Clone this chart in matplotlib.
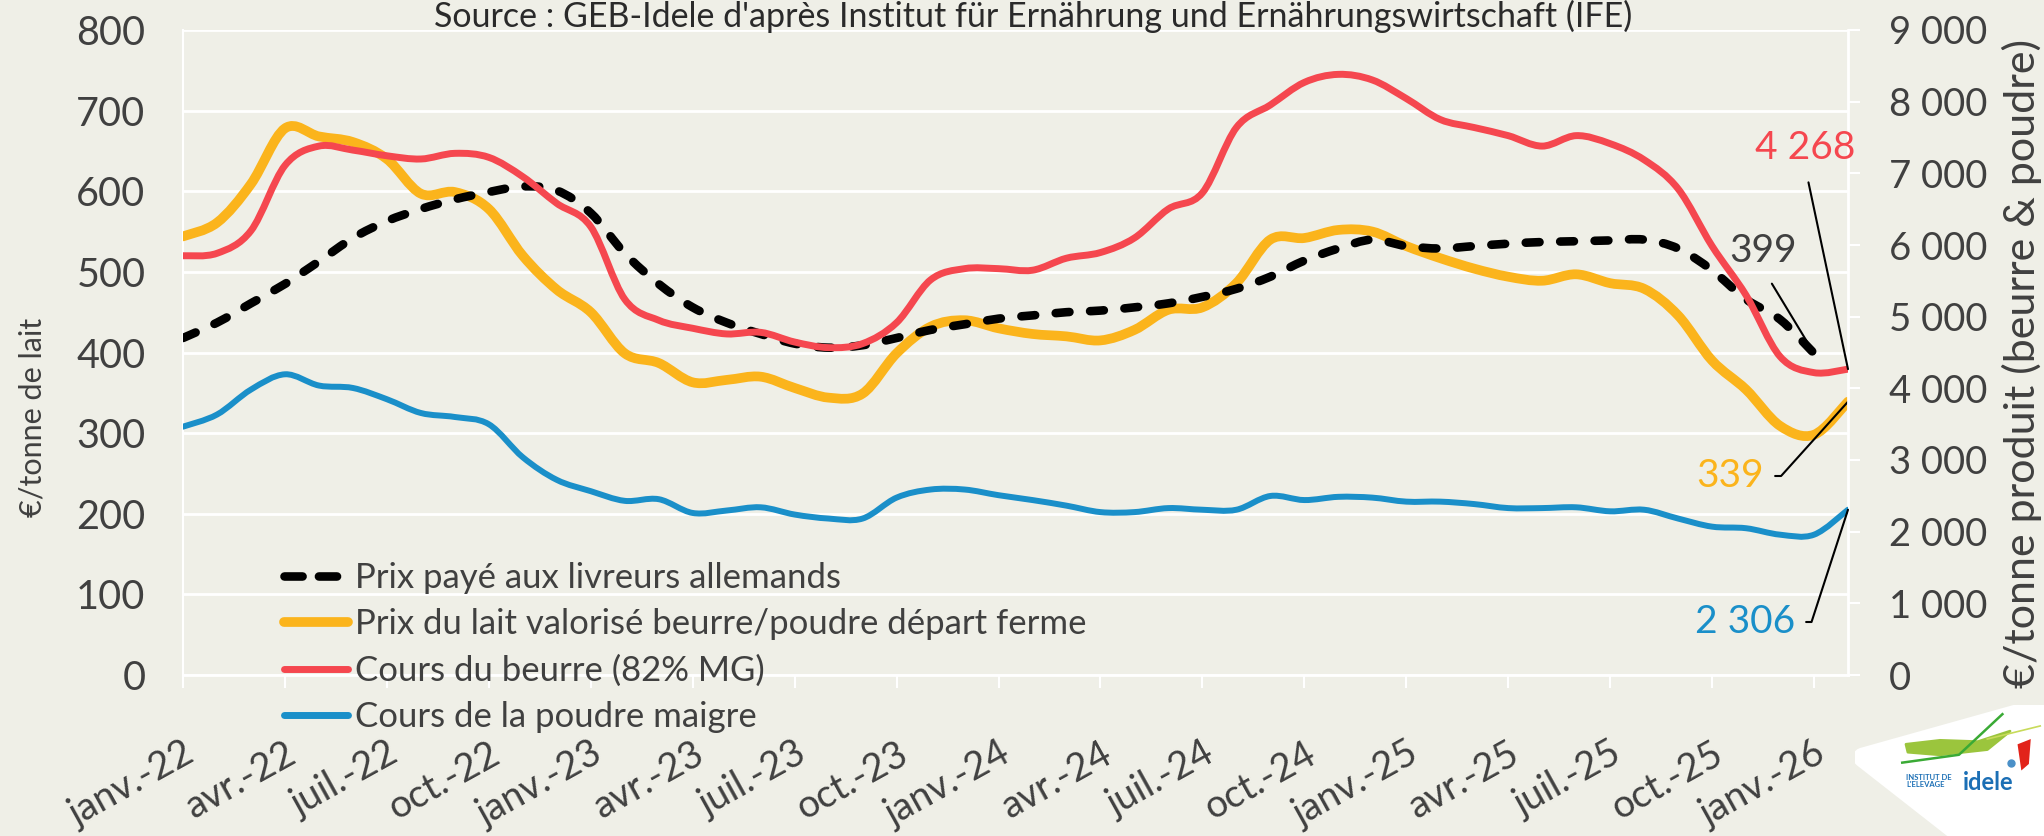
import numpy as np
import matplotlib
matplotlib.use('Agg')
import matplotlib.pyplot as plt
import matplotlib.transforms as mtransforms
from matplotlib.path import Path
from matplotlib.patches import PathPatch, Polygon
from matplotlib.lines import Line2D
from matplotlib.ticker import FuncFormatter

plt.rcParams['font.family'] = ['Lato', 'DejaVu Sans']

# mois janv.-22 -> févr.-26
mois = ['janv.', 'févr.', 'mars', 'avr.', 'mai', 'juin',
        'juil.', 'août', 'sept.', 'oct.', 'nov.', 'déc.']
annees = ['22', '23', '24', '25', '26']
months = [m + '-' + a for a in annees for m in mois][:50]

# €/tonne de lait (axe gauche)
prix_livreurs = [418, 437, 461, 485, 513, 542, 563, 578, 590, 599, 606, 601, 573,
                 523, 485, 456, 437, 423, 411, 406, 409, 418, 428, 435, 442, 446,
                 450, 452, 456, 461, 469, 479, 494, 514, 529, 540, 532, 529, 532,
                 535, 537, 538, 539, 540, 529, 502, 466, 441, 399]
prix_valorise = [544, 561, 609, 678, 668, 661, 640, 597, 599, 578, 520, 478, 450,
                 399, 387, 363, 366, 370, 356, 344, 349, 399, 432, 440, 430, 423,
                 420, 415, 428, 453, 456, 486, 540, 542, 552, 550, 532, 517, 504,
                 494, 489, 497, 486, 479, 446, 390, 354, 309, 298, 339]

# €/tonne produit (axe droit)
beurre = [5850, 5884, 6199, 7110, 7380, 7324, 7245, 7200, 7279, 7223, 6953, 6581,
          6255, 5243, 4950, 4838, 4759, 4781, 4646, 4568, 4624, 4916, 5513, 5670,
          5670, 5648, 5816, 5895, 6098, 6503, 6728, 7639, 7954, 8269, 8381, 8303,
          8044, 7751, 7639, 7526, 7380, 7526, 7414, 7189, 6784, 5985, 5299, 4444,
          4219, 4268]
poudre = [3465, 3634, 3983, 4196, 4039, 4005, 3848, 3656, 3600, 3499, 3038, 2723,
          2565, 2430, 2453, 2261, 2295, 2340, 2239, 2183, 2183, 2475, 2588, 2588,
          2509, 2441, 2363, 2273, 2273, 2329, 2306, 2306, 2498, 2441, 2486, 2475,
          2419, 2419, 2385, 2329, 2329, 2340, 2284, 2306, 2183, 2070, 2048, 1958,
          1958, 2306]

labels = ['Prix payé aux livreurs allemands',
          'Prix du lait valorisé beurre/poudre départ ferme',
          'Cours du beurre (82% MG)',
          'Cours de la poudre maigre']

BG = '#EFEFE7'
TXT = '#404040'
C_BLACK = '#000000'
C_YEL = '#FBB41C'
C_RED = '#F5474F'
C_BLUE = '#1A8FC9'


def smooth_path(x, y):
    # courbe lissée type Excel (bezier)
    x = np.asarray(x, float)
    y = np.asarray(y, float)
    n = len(x)
    verts = [(x[0], y[0])]
    codes = [Path.MOVETO]
    for i in range(n - 1):
        xa, ya = (x[i - 1], y[i - 1]) if i > 0 else (x[i], y[i])
        xd, yd = (x[i + 2], y[i + 2]) if i + 2 < n else (x[i + 1], y[i + 1])
        c1 = (x[i] + (x[i + 1] - xa) / 6, y[i] + (y[i + 1] - ya) / 6)
        c2 = (x[i + 1] - (xd - x[i]) / 6, y[i + 1] - (yd - y[i]) / 6)
        verts += [c1, c2, (x[i + 1], y[i + 1])]
        codes += [Path.CURVE4] * 3
    return Path(verts, codes)


W, H = 2044, 836
fig = plt.figure(figsize=(W / 100, H / 100), dpi=100, facecolor=BG)
ax = fig.add_axes([183 / W, 1 - 675 / H, (1848 - 183) / W, (675 - 30) / H])
ax.set_facecolor(BG)
ax2 = ax.twinx()
ax2.patch.set_visible(False)

x = np.arange(len(months))

dash = (0, (1.6, 2.4))
ax.add_patch(PathPatch(smooth_path(x[:len(prix_livreurs)], prix_livreurs), fill=False,
                       edgecolor=C_BLACK, lw=6.2, linestyle=dash, capstyle='round',
                       joinstyle='round', zorder=5))
ax.add_patch(PathPatch(smooth_path(x, prix_valorise), fill=False, edgecolor=C_YEL,
                       lw=7, capstyle='round', joinstyle='round', zorder=3))
ax2.add_patch(PathPatch(smooth_path(x, beurre), fill=False, edgecolor=C_RED,
                        lw=5, capstyle='round', joinstyle='round', zorder=3))
ax2.add_patch(PathPatch(smooth_path(x, poudre), fill=False, edgecolor=C_BLUE,
                        lw=4.3, capstyle='round', joinstyle='round', zorder=3))

ax.set_xlim(0, 49)
ax.set_ylim(0, 800)
ax2.set_ylim(0, 9000)
ax.set_yticks(range(0, 801, 100))
ax2.set_yticks(range(0, 9001, 1000))
ax2.yaxis.set_major_formatter(FuncFormatter(lambda v, p: f'{int(v):,}'.replace(',', ' ')))

ax.set_xticks(x[::3])
ax.set_xticklabels(months[::3], rotation=29, ha='right', va='top',
                   rotation_mode='anchor')
shift = mtransforms.ScaledTranslation(-0.2, 0, fig.dpi_scale_trans)
for lab in ax.get_xticklabels():
    lab.set_transform(lab.get_transform() + shift)

ax.yaxis.grid(True, color='white', lw=2)
ax.set_axisbelow(True)
for s in ['top', 'right']:
    ax.spines[s].set_visible(False)
ax.spines['left'].set_color('white')
ax.spines['left'].set_linewidth(1.5)
ax.spines['bottom'].set_color('white')
ax.spines['bottom'].set_linewidth(2)
for s in ['top', 'left', 'bottom']:
    ax2.spines[s].set_visible(False)
ax2.spines['right'].set_color('white')
ax2.spines['right'].set_linewidth(2)

ax.tick_params(axis='y', length=0, labelsize=28.5, labelcolor=TXT, pad=27)
ax.tick_params(axis='x', length=9.5, width=1.5, color='white', direction='out',
               labelsize=27.5, labelcolor=TXT, pad=34)
ax2.tick_params(axis='y', length=8.5, width=1.5, color='white', direction='out',
                labelsize=27.5, labelcolor=TXT, pad=21)

fig.text(33 / W, 1 - 417 / H, '€/tonne de lait', rotation=90, ha='center',
         va='center', fontsize=22, color=TXT)
fig.text(2022 / W, 1 - 363 / H, '€/tonne produit (beurre & poudre)', rotation=90,
         ha='center', va='center', fontsize=31, color=TXT)
fig.text(1033 / W, 1 - 27 / H,
         "Source : GEB-Idele d'après Institut für Ernährung und Ernährungswirtschaft (IFE)",
         ha='center', va='baseline', fontsize=24.5, color='#2A2A2A')

# légende
handles = [Line2D([], [], color=C_BLACK, lw=6.2, linestyle=(0, (2.1, 1.9)),
                  dash_capstyle='round'),
           Line2D([], [], color=C_YEL, lw=7, solid_capstyle='round'),
           Line2D([], [], color=C_RED, lw=5, solid_capstyle='round'),
           Line2D([], [], color=C_BLUE, lw=5, solid_capstyle='round')]
leg = fig.legend(handles, labels, loc='upper left',
                 bbox_to_anchor=(284 / W, 1 - 562 / H), frameon=False,
                 fontsize=25, handlelength=1.85, handletextpad=0.2,
                 labelspacing=0.41, borderpad=0, borderaxespad=0)
for t in leg.get_texts():
    t.set_color(TXT)

# étiquettes des dernières valeurs
ax2.annotate('4 268', xy=(49, beurre[-1]), xycoords='data',
             xytext=(1805, H - 148), textcoords='figure pixels',
             ha='center', va='center', fontsize=28, color=C_RED,
             arrowprops=dict(arrowstyle='-', color='black', lw=1.5,
                             relpos=(0.5, 0), shrinkA=10, shrinkB=0))
ax.annotate('399', xy=(48, prix_livreurs[-1]), xycoords='data',
            xytext=(1763, H - 251), textcoords='figure pixels',
            ha='center', va='center', fontsize=28, color=TXT,
            arrowprops=dict(arrowstyle='-', color='black', lw=1.5,
                            relpos=(0.5, 0), shrinkA=10, shrinkB=0))
ax.annotate('339', xy=(49, prix_valorise[-1]), xycoords='data',
            xytext=(1764, H - 476), textcoords='figure pixels',
            ha='right', va='center', fontsize=28, color=C_YEL,
            arrowprops=dict(arrowstyle='-', color='black', lw=1.5,
                            relpos=(1, 0.5), shrinkA=6, shrinkB=0,
                            connectionstyle='angle,angleA=0,angleB=48,rad=0'))
ax2.annotate('2 306', xy=(49, poudre[-1]), xycoords='data',
             xytext=(1795, H - 622), textcoords='figure pixels',
             ha='right', va='center', fontsize=28, color=C_BLUE,
             arrowprops=dict(arrowstyle='-', color='black', lw=1.5,
                             relpos=(1, 0.5), shrinkA=6, shrinkB=0,
                             connectionstyle='angle,angleA=0,angleB=72,rad=0'))

# logo
lg = fig.add_axes([1855 / W, 0, (W - 1855) / W, 131 / H])
lg.set_xlim(0, 1)
lg.set_ylim(0, 1)
lg.axis('off')
lg.add_patch(Polygon([(0.04, 0.6), (0.93, 0.96), (1.1, 0.96), (1.1, -0.1), (0.66, -0.1)],
                     closed=True, facecolor='white', edgecolor='white', lw=14,
                     joinstyle='round'))
lg.add_patch(Polygon([(0.27, 0.70), (0.45, 0.73), (0.65, 0.72), (0.82, 0.80),
                      (0.70, 0.66), (0.45, 0.62), (0.28, 0.64)],
                     closed=True, facecolor='#9BC53D', edgecolor='#9BC53D', lw=2,
                     joinstyle='round'))
lg.plot([0.25, 0.55, 0.78], [0.56, 0.62, 0.93], color='#3AAA35', lw=1.8)
lg.plot([0.70, 0.98], [0.74, 0.84], color='#C8DB5A', lw=1.2)
lg.plot([0.825], [0.56], marker='o', ms=5, color='#4A90C8')
lg.add_patch(Polygon([(0.86, 0.70), (0.93, 0.74), (0.92, 0.55), (0.88, 0.50)],
                     closed=True, facecolor='#E2231A', edgecolor='none'))
lg.text(0.27, 0.42, "INSTITUT DE\nL'ELEVAGE", fontsize=5.5, fontweight='bold',
        color='#1B6FB5', ha='left', va='center', linespacing=1.0)
lg.text(0.57, 0.41, 'idele', fontsize=17, fontweight='bold', color='#1B6FB5',
        ha='left', va='center')

fig.savefig('out.png', dpi=100, facecolor=BG)
